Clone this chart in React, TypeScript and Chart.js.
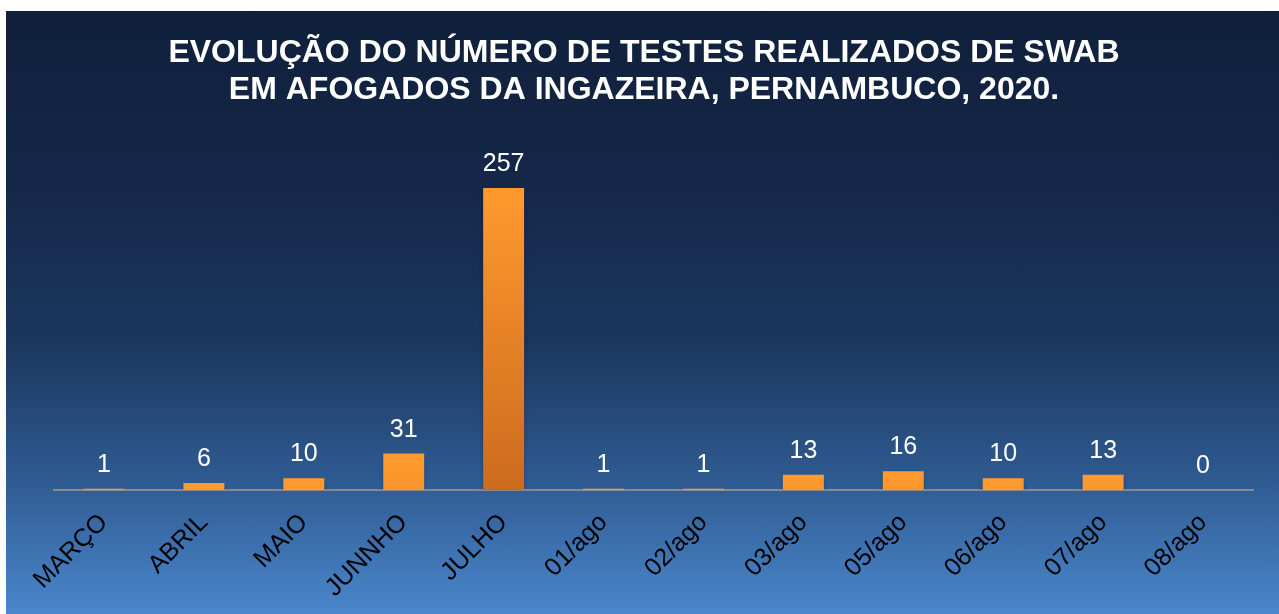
import React, { useEffect, useRef } from "react";
import { Chart, registerables } from "chart.js";

Chart.register(...registerables);

const categories = ["MARÇO", "ABRIL", "MAIO", "JUNNHO", "JULHO", "01/ago", "02/ago", "03/ago", "05/ago", "06/ago", "07/ago", "08/ago"];
const testes = [1, 6, 10, 31, 257, 1, 1, 13, 16, 10, 13, 0];
const titleLines = ["EVOLUÇÃO DO NÚMERO DE TESTES REALIZADOS DE SWAB", "EM AFOGADOS DA INGAZEIRA, PERNAMBUCO, 2020."];
const yMax = 300;

const FONT = "'Liberation Sans', Arial, Helvetica, sans-serif";

const decorPlugin = {
  id: "decor",
  beforeDatasetsDraw(chart: any) {
    const ctx = chart.ctx;
    ctx.save();
    ctx.shadowColor = "rgba(0,0,0,0.35)";
    ctx.shadowBlur = 5;
    ctx.shadowOffsetY = 4;
  },
  afterDatasetsDraw(chart: any) {
    const ctx = chart.ctx;
    ctx.restore();
    const meta = chart.getDatasetMeta(0);
    ctx.save();
    ctx.fillStyle = "#ffffff";
    ctx.font = `25px ${FONT}`;
    ctx.textAlign = "center";
    ctx.textBaseline = "alphabetic";
    meta.data.forEach((el: any, i: number) => {
      ctx.fillText(String(testes[i]), el.x, el.y - 17);
    });
    ctx.restore();
  },
  afterDraw(chart: any) {
    const ctx = chart.ctx;
    ctx.save();
    ctx.fillStyle = "#ffffff";
    ctx.font = `bold 32px ${FONT}`;
    ctx.textAlign = "center";
    ctx.textBaseline = "alphabetic";
    ctx.fillText(titleLines[0], 638, 51);
    ctx.fillText(titleLines[1], 638, 87.5);
    ctx.restore();
  },
};

export default function App() {
  const ref = useRef<HTMLCanvasElement>(null);
  useEffect(() => {
    document.body.style.margin = "0";
    const canvas = ref.current!;
    const chart = new Chart(canvas, {
      type: "bar",
      data: {
        labels: categories,
        datasets: [
          {
            data: testes,
            categoryPercentage: 1,
            barPercentage: 0.41,
            backgroundColor: (c: any) => {
              const ch = c.chart;
              const ys = ch.scales?.y;
              if (!ys || !ch.chartArea || c.raw === undefined) return "#f7922a";
              const top = ys.getPixelForValue(c.raw);
              const g = ch.ctx.createLinearGradient(0, top, 0, top + 302);
              g.addColorStop(0, "#ff9a2e");
              g.addColorStop(1, "#cc6a1e");
              return g;
            },
          },
        ],
      },
      options: {
        responsive: false,
        animation: false,
        layout: { padding: { top: 126.5, left: 48, right: 26, bottom: 0 } },
        plugins: { legend: { display: false }, title: { display: false }, tooltip: { enabled: false } },
        scales: {
          y: { display: false, min: 0, max: yMax },
          x: {
            z: 1,
            grid: { display: false },
            border: { display: true, color: "#8a8a8a", width: 2 },
            ticks: {
              autoSkip: false,
              minRotation: 45,
              maxRotation: 45,
              color: "#000000",
              padding: 10,
              font: { size: 25, family: FONT },
            },
            afterFit: (s: any) => {
              s.height = 124;
              s.paddingLeft = 0;
              s.paddingRight = 0;
            },
          },
        },
      },
      plugins: [decorPlugin],
    } as any);
    return () => chart.destroy();
  }, []);

  return (
    <div
      style={{
        position: "absolute",
        left: 6,
        top: 11,
        width: 1273,
        height: 603,
        background: "linear-gradient(to bottom, #10203b 0%, #15284a 30%, #1b375e 55%, #2f5b92 78%, #4b87cc 100%)",
      }}
    >
      <canvas ref={ref} width={1273} height={603} style={{ display: "block" }} />
    </div>
  );
}
